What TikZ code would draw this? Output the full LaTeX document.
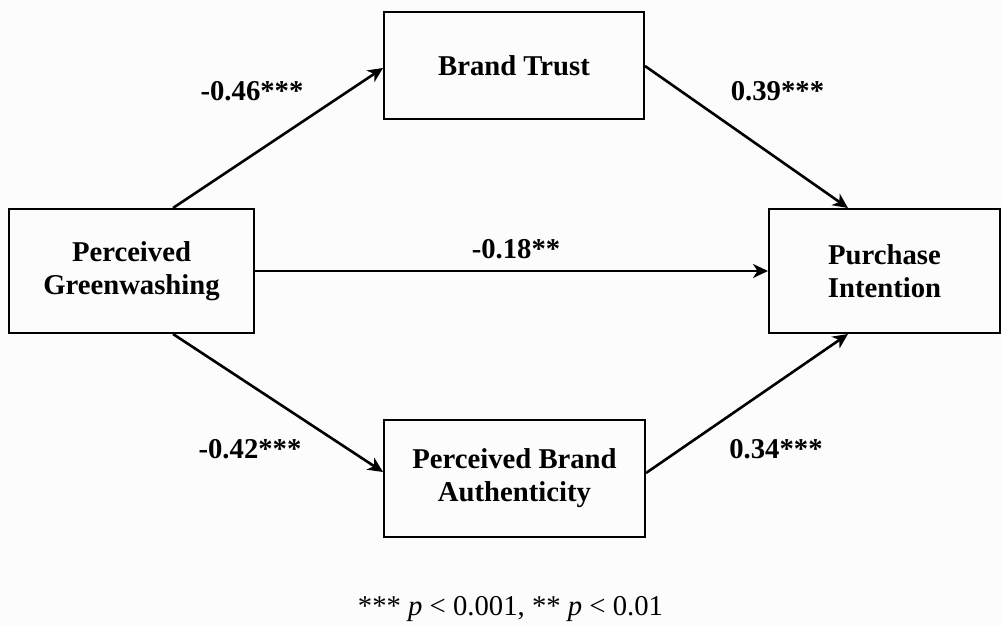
\documentclass[tikz,border=0pt]{standalone}
\usepackage{fontspec}
\setmainfont{Liberation Serif}
\usetikzlibrary{arrows.meta,calc}
\begin{document}
\begin{tikzpicture}[x=1pt,y=-1pt,
  box/.style={draw=black,line width=2pt,align=center,inner sep=0pt,
    font=\fontsize{28.7}{33}\selectfont\bfseries},
  arr/.style={line width=2.6pt,-{Stealth[length=15pt,width=14pt,inset=4.5pt]}},
  lab/.style={anchor=base,inner sep=0pt,font=\fontsize{28.7}{33}\selectfont\bfseries}]
\fill[white!99!black] (0,0) rectangle (1001,626);
\useasboundingbox (0,0) rectangle (1001,626);
\node[box,minimum width=245pt,minimum height=124pt] (PG) at (131.5,271) {Perceived\\Greenwashing};
\node[box,minimum width=260pt,minimum height=107pt] (BT) at (514,65.5) {Brand Trust};
\node[box,minimum width=231pt,minimum height=124pt] (PI) at (884.5,271) {Purchase\\Intention};
\node[box,minimum width=261pt,minimum height=117pt] (PBA) at (514.5,478.5) {Perceived Brand\\Authenticity};
\draw[arr] ($(PG.north)+(41.5,0)$) -- ($(BT.west)+(0,2.5)$);
\draw[arr] ($(BT.east)+(0,0.5)$) -- ($(PI.north)+(-36.5,0)$);
\draw[arr] (PG.east) -- (PI.west);
\draw[arr] ($(PG.south)+(41.5,0)$) -- ($(PBA.west)+(0,-6.5)$);
\draw[arr] ($(PBA.east)+(0,-5.5)$) -- ($(PI.south)+(-36.5,0)$);
\node[lab] (L1) at (252,100) {-0.46***};
\node[lab] (L2) at (777.5,100) {0.39***};
\node[lab] (L3) at (516,258) {-0.18**};
\node[lab] (L4) at (250,458) {-0.42***};
\node[lab] (L5) at (776,458) {0.34***};
\node[anchor=base,inner sep=0pt,font=\fontsize{28.7}{33}\selectfont] (N) at (510.5,615) {*** \textit{p} < 0.001, ** \textit{p} < 0.01};
\end{tikzpicture}
\end{document}
